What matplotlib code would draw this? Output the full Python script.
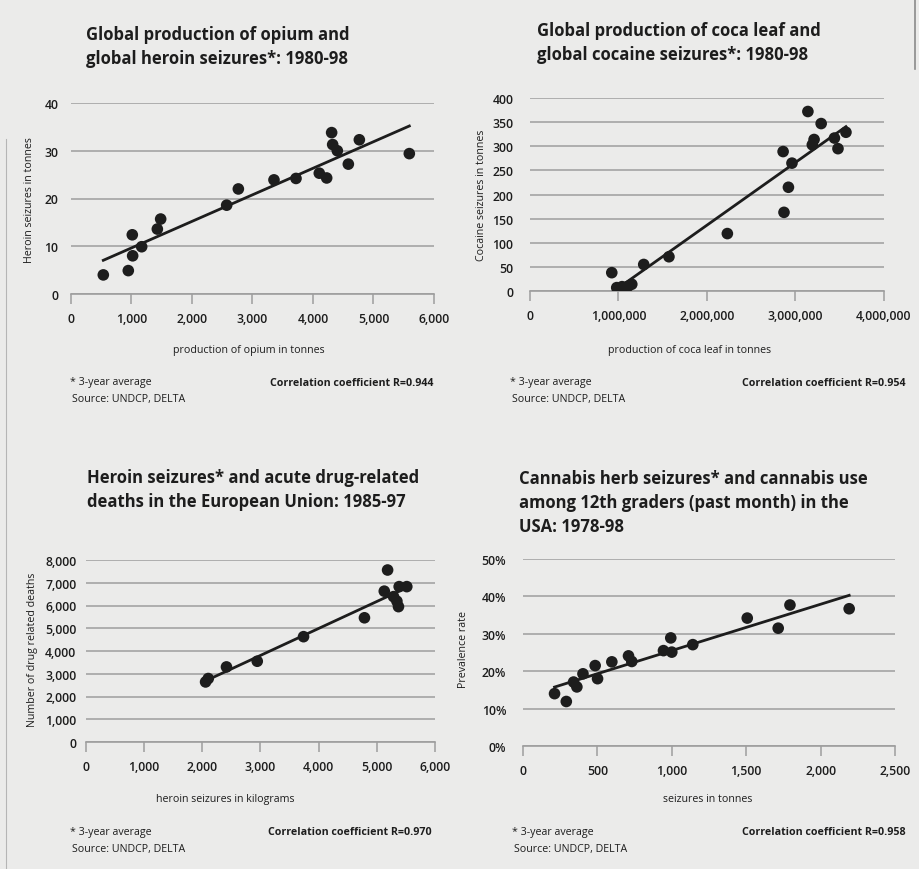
import numpy as np
import matplotlib
matplotlib.use("Agg")
from matplotlib import pyplot as plt
from matplotlib.lines import Line2D
from matplotlib.ticker import FuncFormatter, MultipleLocator

# ------------------
# data
# ------------------
# opium production (t) vs heroin seizures (t), 1980-98
opium_prod = [534, 947, 1013, 1019, 1168, 1427, 1482, 2573, 2766, 3355,
              3719, 4104, 4226, 4308, 4325, 4402, 4584, 4766, 5592]
heroin_seiz = [4.0, 4.9, 12.4, 8.0, 9.9, 13.6, 15.7, 18.6, 22.0, 23.9,
               24.2, 25.3, 24.3, 33.8, 31.3, 30.0, 27.2, 32.3, 29.4]

# coca leaf production (t) vs cocaine seizures (t), 1980-98
coca_prod = [924000, 980000, 1040000, 1110000, 1150000, 1285000, 1570000,
             2230000, 2860000, 2870000, 2920000, 2960000, 3140000, 3190000,
             3210000, 3290000, 3440000, 3480000, 3570000]
cocaine_seiz = [38, 7, 9, 10, 14, 55, 71, 119, 289, 163, 215, 265, 372, 303,
                314, 347, 317, 295, 329]

# EU heroin seizures (kg) vs drug related deaths, 1985-97
eu_heroin_kg = [2056, 2102, 2415, 2944, 3740, 4787, 5128, 5185, 5287, 5345,
                5372, 5384, 5515]
eu_deaths = [2640, 2790, 3300, 3550, 4630, 5460, 6630, 7560, 6390, 6190,
             5950, 6830, 6830]

# USA cannabis herb seizures (t) vs past-month use among 12th graders (%)
cannabis_seiz = [212, 291, 340, 362, 403, 485, 501, 597, 709, 731, 944, 993,
                 1000, 1141, 1507, 1715, 1794, 2192]
cannabis_prev = [14.0, 11.9, 17.1, 15.8, 19.3, 21.5, 18.0, 22.5, 24.1, 22.6,
                 25.5, 28.9, 25.1, 27.1, 34.2, 31.5, 37.7, 36.7]

titles = [
    "Global production of opium and\nglobal heroin seizures*: 1980-98",
    "Global production of coca leaf and\nglobal cocaine seizures*: 1980-98",
    "Heroin seizures* and acute drug-related\ndeaths in the European Union: 1985-97",
    "Cannabis herb seizures* and cannabis use\namong 12th graders (past month) in the\nUSA: 1978-98",
]
x_labels = ["production of opium in tonnes", "production of coca leaf in tonnes",
            "heroin seizures in kilograms", "seizures in tonnes"]
y_labels = ["Heroin seizures in tonnes", "Cocaine seizures in tonnes",
            "Number of drug related deaths", "Prevalence rate"]
corr_values = ["0.944", "0.954", "0.970", "0.958"]

# ------------------
# style
# ------------------
W, H = 920, 870
BG = "#ebebea"
INK = "#1d1d1d"
GRID = "#9e9e9e"
TITLE_SIZE = 12
SMALL = 7.7
plt.rcParams["font.family"] = ["Open Sans", "DejaVu Sans"]


def fx(x):
    return x / W


def fy(y):
    return 1 - y / H


def text(fig, x, y, s, **kw):
    kw.setdefault("color", INK)
    fig.text(fx(x), fy(y), s, **kw)


def thousands(v, pos):
    return "{:,}".format(int(round(v)))


def percent(v, pos):
    return "{}%".format(int(round(v)))


def panel(fig, box, xs, ys, xlim, xstep, ylim, ystep, yfmt, ypad):
    left, top, right, bottom = box
    ax = fig.add_axes([fx(left), fy(bottom), (right - left) / W, (bottom - top) / H])
    ax.set_facecolor("none")
    ax.set_xlim(0, xlim)
    ax.set_ylim(0, ylim)
    ax.xaxis.set_major_locator(MultipleLocator(xstep))
    ax.yaxis.set_major_locator(MultipleLocator(ystep))
    ax.xaxis.set_major_formatter(FuncFormatter(thousands))
    ax.yaxis.set_major_formatter(FuncFormatter(yfmt))
    for side in ["top", "right", "left"]:
        ax.spines[side].set_visible(False)
    ax.spines["bottom"].set_color(GRID)
    ax.spines["bottom"].set_linewidth(1.2)
    ax.grid(axis="y", color=GRID, linewidth=1.1)
    ax.set_axisbelow(True)
    ax.tick_params(axis="x", direction="out", length=7, width=1.1, color=GRID,
                   labelsize=8.8, labelcolor=INK, pad=6)
    ax.tick_params(axis="y", length=0, labelsize=8.8, labelcolor=INK, pad=ypad)
    for lab in ax.get_xticklabels() + ax.get_yticklabels():
        lab.set_fontweight("semibold")

    # least-squares trend line over the data range
    slope, icpt = np.polyfit(xs, ys, 1)
    lx = np.array([min(xs), max(xs)])
    ax.plot(lx, slope * lx + icpt, color=INK, linewidth=2.0, zorder=3)
    ax.scatter(xs, ys, s=70, color=INK, edgecolors="none", zorder=4)
    return ax


def notes(fig, x_star, x_corr_end, y, corr):
    text(fig, x_star, y, "* 3-year average", fontsize=SMALL, va="center")
    text(fig, x_corr_end, y, "Correlation coefficient R=" + corr, fontsize=SMALL,
         fontweight="bold", ha="right", va="center")
    text(fig, x_star + 2, y + 17, "Source: UNDCP, DELTA", fontsize=SMALL, va="center")


def title(fig, x, y, s):
    text(fig, x, y, s, fontsize=TITLE_SIZE, fontweight="bold", va="center",
         linespacing=1.45)


# ------------------
# main
# ------------------
def main():
    fig = plt.figure(figsize=(W / 100, H / 100), dpi=100)
    fig.patch.set_facecolor(BG)

    # top left
    panel(fig, (71, 104, 434, 295), opium_prod, heroin_seiz, 6000, 1000, 40, 10,
          thousands, 9)
    title(fig, 86, 47, titles[0])
    text(fig, 30, 200, y_labels[0], fontsize=SMALL, rotation=90, ha="center", va="center")
    text(fig, 249, 350, x_labels[0], fontsize=SMALL, ha="center", va="center")
    notes(fig, 70, 433, 383, corr_values[0])

    # top right
    panel(fig, (530, 99, 884, 292), coca_prod, cocaine_seiz, 4000000, 1000000, 400, 50,
          thousands, 12)
    title(fig, 537, 43, titles[1])
    text(fig, 481, 195, y_labels[1], fontsize=SMALL, rotation=90, ha="center", va="center")
    text(fig, 690, 350, x_labels[1], fontsize=SMALL, ha="center", va="center")
    notes(fig, 510, 906, 383, corr_values[1])

    # bottom left
    panel(fig, (86, 561, 435, 743), eu_heroin_kg, eu_deaths, 6000, 1000, 8000, 1000,
          thousands, 7)
    title(fig, 87, 490, titles[2])
    text(fig, 33, 650, y_labels[2], fontsize=SMALL, rotation=90, ha="center", va="center")
    text(fig, 225, 800, x_labels[2], fontsize=SMALL, ha="center", va="center")
    notes(fig, 70, 432, 833, corr_values[2])

    # bottom right
    panel(fig, (523, 560, 895, 747), cannabis_seiz, cannabis_prev, 2500, 500, 50, 10,
          percent, 12)
    title(fig, 519, 503, titles[3])
    text(fig, 463, 650, y_labels[3], fontsize=SMALL, rotation=90, ha="center", va="center")
    text(fig, 708, 800, x_labels[3], fontsize=SMALL, ha="center", va="center")
    notes(fig, 512, 906, 833, corr_values[3])

    # faint page edges
    fig.add_artist(Line2D([fx(6), fx(6)], [fy(140), fy(870)], color="#b5b5b5", linewidth=0.8))
    fig.add_artist(Line2D([fx(915), fx(915)], [fy(0), fy(70)], color="#8a8a8a", linewidth=1.2))

    fig.savefig("out.png", dpi=100, facecolor=BG)


if __name__ == "__main__":
    main()
